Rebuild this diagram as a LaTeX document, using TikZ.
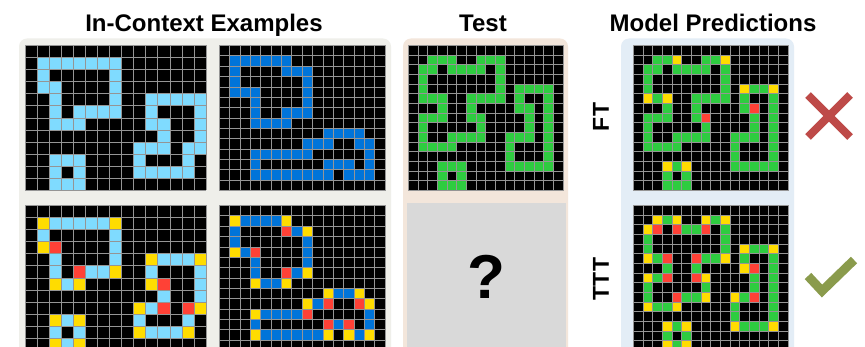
\documentclass[tikz,border=0pt]{standalone}
\usepackage{fontspec}
\setmainfont{Liberation Sans}
\definecolor{aT}{HTML}{7FDBFF}
\definecolor{aB}{HTML}{0074D9}
\definecolor{aR}{HTML}{FF4136}
\definecolor{aG}{HTML}{2ECC40}
\definecolor{aY}{HTML}{FFDC00}
\definecolor{panelEx}{HTML}{EFEFEA}
\definecolor{panelTest}{HTML}{F3E6DB}
\definecolor{panelPred}{HTML}{E3EDF6}
\definecolor{qbox}{HTML}{D9D9D9}
\definecolor{gline}{HTML}{959595}
\definecolor{crossred}{HTML}{BE4A48}
\definecolor{checkgreen}{HTML}{8A9B4C}
\newcommand\arcgrid[6]{%
  \begin{scope}[xshift=#1pt, yshift=-#2pt, x=#3pt, y=-#3pt]
    \fill[black] (0,0) rectangle (#4,#5);
    \foreach \r/\a/\b/\k in {#6} { \fill[\k] (\a,\r) rectangle (\b+1,\r+1); }
    \foreach \i in {0,...,#4} { \draw[gline, line width=0.8pt] (\i,0) -- (\i,#5); }
    \foreach \j in {0,...,#5} { \draw[gline, line width=0.8pt] (0,\j) -- (#4,\j); }
  \end{scope}}
\tikzset{
  title/.style={font=\bfseries\fontsize{24}{24}\selectfont, anchor=base},
  rowlabel/.style={font=\bfseries\fontsize{23}{23}\selectfont, rotate=90},
  panel/.style={rounded corners=8pt}
}
\begin{document}
\begin{tikzpicture}[x=1pt, y=-1pt]
\useasboundingbox (0,0) rectangle (865,347);
\clip (0,0) rectangle (865,347);
\fill[white] (0,0) rectangle (865,347);
% panels
\fill[panelEx, panel] (19,38.5) rectangle (391,380);
\fill[panelTest, panel] (403,38.5) rectangle (568,380);
\fill[panelPred, panel] (621,38.5) rectangle (794,380);
% titles
\node[title] (t1) at (204,31.5) {In-Context Examples};
\node[title] (t2) at (483,31.5) {Test};
\node[title] (t3) at (713,31.5) {Model Predictions};
% example 1 input
\arcgrid{25}{45.5}{12.08}{15}{12}{1/1/7/aT, 2/1/1/aT, 2/7/7/aT, 3/1/2/aT, 3/7/7/aT, 4/2/2/aT, 4/7/7/aT, 4/10/14/aT, 5/2/2/aT, 5/4/7/aT, 5/10/10/aT, 5/14/14/aT, 6/2/4/aT, 6/10/11/aT, 6/14/14/aT, 7/11/11/aT, 7/14/14/aT, 8/9/11/aT, 8/13/14/aT, 9/2/4/aT, 9/9/9/aT, 9/13/13/aT, 10/2/2/aT, 10/4/4/aT, 10/9/13/aT, 11/2/4/aT}
% example 1 output
\arcgrid{25}{205.5}{12.08}{15}{12}{1/1/1/aY, 1/2/6/aT, 1/7/7/aY,
2/1/1/aT, 2/7/7/aT,
3/1/1/aY, 3/2/2/aR, 3/7/7/aT,
4/2/2/aT, 4/7/7/aT, 4/10/10/aY, 4/11/13/aT, 4/14/14/aY,
5/2/2/aT, 5/4/4/aR, 5/5/6/aT, 5/7/7/aY, 5/10/10/aT, 5/14/14/aT,
6/2/2/aY, 6/3/3/aT, 6/4/4/aY, 6/10/10/aY, 6/11/11/aR, 6/14/14/aT,
7/11/11/aT, 7/14/14/aT,
8/9/9/aY, 8/10/10/aT, 8/11/11/aR, 8/13/13/aR, 8/14/14/aY,
9/2/2/aY, 9/3/3/aT, 9/4/4/aY, 9/9/9/aT, 9/13/13/aT,
10/2/2/aT, 10/4/4/aT, 10/9/9/aY, 10/10/12/aT, 10/13/13/aY,
11/2/2/aY, 11/3/3/aT, 11/4/4/aY}
% example 2 input
\arcgrid{219.3}{45.5}{10.36}{16}{14}{1/1/6/aB, 2/1/1/aB, 2/6/8/aB, 3/1/1/aB, 3/8/8/aB, 4/1/3/aB, 4/8/8/aB, 5/3/3/aB, 5/8/8/aB, 6/3/3/aB, 6/6/8/aB, 7/3/6/aB, 8/10/13/aB, 9/8/10/aB, 9/13/14/aB, 10/3/8/aB, 10/14/14/aB, 11/3/3/aB, 11/10/12/aB, 11/14/14/aB, 12/3/10/aB, 12/12/14/aB}
% example 2 output
\arcgrid{219.3}{205.5}{10.36}{16}{14}{1/1/1/aY, 1/2/5/aB, 1/6/6/aY,
2/1/1/aB, 2/6/6/aR, 2/7/7/aB, 2/8/8/aY,
3/1/1/aB, 3/8/8/aB,
4/1/1/aY, 4/2/2/aB, 4/3/3/aR, 4/8/8/aB,
5/3/3/aB, 5/8/8/aB,
6/3/3/aB, 6/6/6/aR, 6/7/7/aB, 6/8/8/aY,
7/3/3/aY, 7/4/5/aB, 7/6/6/aY,
8/10/10/aY, 8/11/12/aB, 8/13/13/aY,
9/8/8/aY, 9/9/9/aB, 9/10/10/aR, 9/13/13/aR, 9/14/14/aY,
10/3/3/aY, 10/4/7/aB, 10/8/8/aR, 10/14/14/aB,
11/3/3/aB, 11/10/10/aR, 11/11/11/aB, 11/12/12/aR, 11/14/14/aB,
12/3/3/aY, 12/4/9/aB, 12/10/10/aY, 12/12/12/aY, 12/13/13/aB, 12/14/14/aY}
% test input
\arcgrid{408.3}{45.5}{9.67}{16}{15}{1/2/4/aG, 1/7/9/aG, 2/1/2/aG, 2/4/7/aG, 2/9/9/aG, 3/1/1/aG, 3/9/9/aG, 4/1/1/aG, 4/9/9/aG, 4/11/14/aG, 5/1/3/aG, 5/6/9/aG, 5/11/11/aG, 5/14/14/aG, 6/3/3/aG, 6/6/6/aG, 6/11/12/aG, 6/14/14/aG, 7/1/3/aG, 7/6/7/aG, 7/12/12/aG, 7/14/14/aG, 8/1/1/aG, 8/7/7/aG, 8/12/12/aG, 8/14/14/aG, 9/1/1/aG, 9/4/7/aG, 9/10/12/aG, 9/14/14/aG, 10/1/4/aG, 10/10/10/aG, 10/14/14/aG, 11/10/10/aG, 11/14/14/aG, 12/3/5/aG, 12/10/14/aG, 13/3/3/aG, 13/5/5/aG, 14/3/5/aG}
% unknown test output
\fill[qbox] (407,203) rectangle (565.5,380);
\node[font=\bfseries\fontsize{62}{62}\selectfont] (q) at (486,277) {?};
% FT prediction
\arcgrid{633.3}{45.5}{9.67}{16}{15}{1/2/3/aG, 1/4/4/aY, 1/7/8/aG, 1/9/9/aY,
2/1/2/aG, 2/4/7/aG, 2/9/9/aG,
3/1/1/aG, 3/9/9/aG,
4/1/1/aG, 4/9/9/aG, 4/11/11/aY, 4/12/13/aG, 4/14/14/aY,
5/1/1/aY, 5/2/2/aG, 5/3/3/aY, 5/6/9/aG, 5/11/11/aG, 5/14/14/aG,
6/3/3/aG, 6/6/6/aG, 6/11/11/aG, 6/12/12/aR, 6/14/14/aG,
7/1/3/aG, 7/6/6/aG, 7/7/7/aR, 7/12/12/aG, 7/14/14/aG,
8/1/1/aG, 8/7/7/aG, 8/12/12/aG, 8/14/14/aG,
9/1/1/aG, 9/4/7/aG, 9/10/12/aG, 9/14/14/aG,
10/1/4/aG, 10/10/10/aG, 10/14/14/aG,
11/10/10/aG, 11/14/14/aG,
12/3/3/aY, 12/4/4/aG, 12/5/5/aY, 12/10/14/aG,
13/3/3/aG, 13/5/5/aG,
14/3/5/aG}
% TTT prediction
\arcgrid{633.3}{205.5}{9.67}{16}{15}{1/2/2/aY, 1/3/3/aG, 1/4/4/aY, 1/7/7/aY, 1/8/8/aG, 1/9/9/aY,
2/1/1/aY, 2/2/2/aR, 2/4/4/aR, 2/5/6/aG, 2/7/7/aR, 2/9/9/aG,
3/1/1/aG, 3/9/9/aG,
4/1/1/aG, 4/9/9/aG, 4/11/11/aY, 4/12/13/aG, 4/14/14/aY,
5/1/1/aY, 5/2/2/aG, 5/3/3/aR, 5/6/6/aR, 5/7/8/aG, 5/9/9/aY, 5/11/11/aG, 5/14/14/aG,
6/3/3/aG, 6/6/6/aG, 6/11/11/aY, 6/12/12/aR, 6/14/14/aG,
7/1/1/aY, 7/2/2/aG, 7/3/3/aR, 7/6/6/aR, 7/7/7/aY, 7/12/12/aG, 7/14/14/aG,
8/1/1/aG, 8/7/7/aG, 8/12/12/aG, 8/14/14/aG,
9/1/1/aG, 9/4/4/aR, 9/5/6/aG, 9/7/7/aY, 9/10/10/aY, 9/11/11/aG, 9/12/12/aR, 9/14/14/aG,
10/1/1/aY, 10/2/3/aG, 10/4/4/aY, 10/10/10/aG, 10/14/14/aG,
11/10/10/aG, 11/14/14/aG,
12/3/3/aY, 12/4/4/aG, 12/5/5/aY, 12/10/10/aY, 12/11/13/aG, 12/14/14/aY,
13/3/3/aG, 13/5/5/aG,
14/3/3/aY, 14/4/4/aG, 14/5/5/aY}
% row labels
\node[rowlabel] (ft) at (601,117) {FT};
\node[rowlabel] (ttt) at (601,279) {TTT};
% cross and check
\draw[crossred, line width=8pt] (808,95) -- (850,137);
\draw[crossred, line width=8pt] (808,137) -- (850,95);
\draw[checkgreen, line width=9pt, miter limit=10] (808,276) -- (822,291) -- (854,260);
\end{tikzpicture}
\end{document}
